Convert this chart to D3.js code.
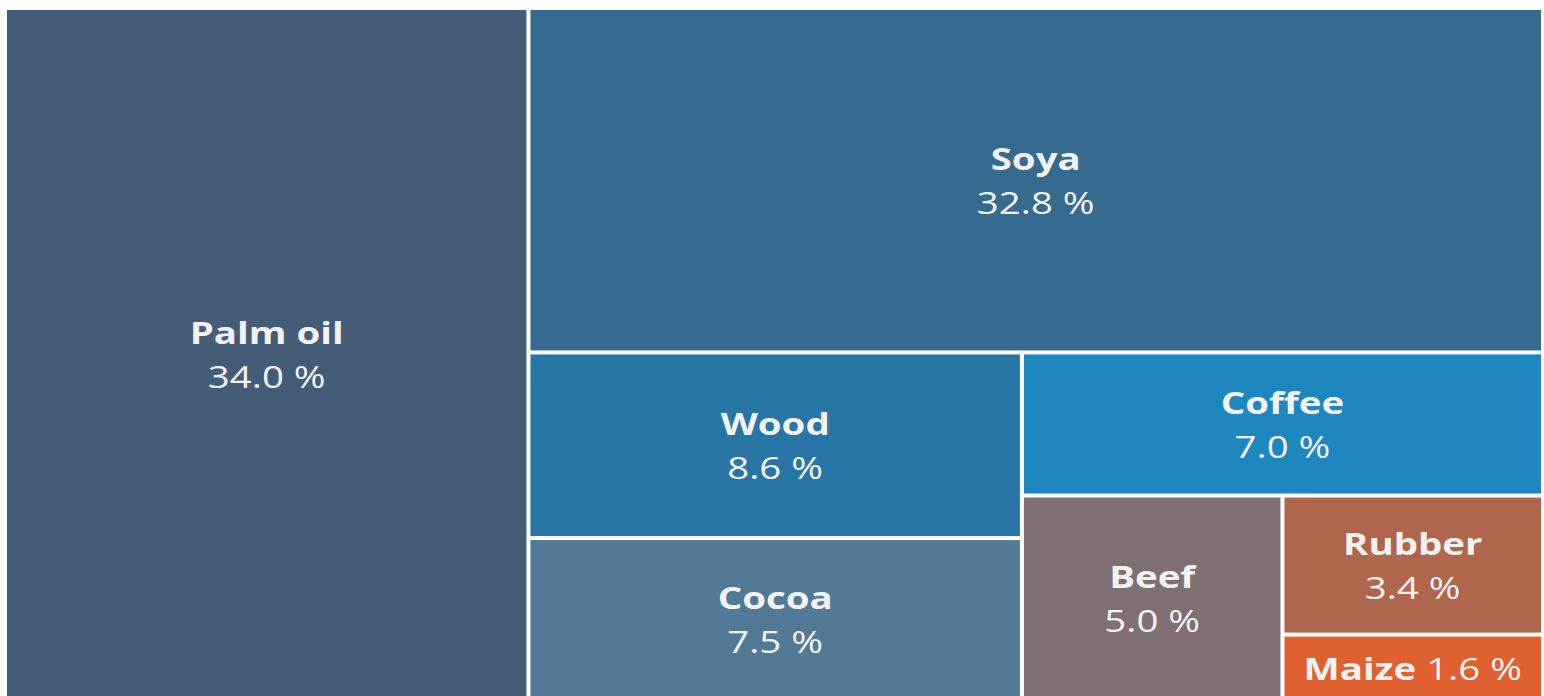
<!DOCTYPE html>
<html>
<head>
<meta charset="utf-8">
<script src="https://cdn.jsdelivr.net/npm/d3@7"></script>
<style>
  html, body { margin: 0; padding: 0; background: #ffffff; }
  svg { display: block; }
  text { font-family: "Open Sans", "Noto Sans", sans-serif; fill: #f2f2f2; }
</style>
</head>
<body>
<svg id="chart" width="1544" height="696"></svg>
<script>
// Data
const categories = ["Palm oil", "Soya", "Wood", "Cocoa", "Coffee", "Beef", "Rubber", "Maize"];
const shares = [34.0, 32.8, 8.6, 7.5, 7.0, 5.0, 3.4, 1.6];
const colors = ["#455c78", "#366a8e", "#2876a5", "#527a96", "#1e87bf", "#7f7073", "#b0664c", "#e06030"];

const leaf = i => ({ name: categories[i], value: shares[i], color: colors[i] });

// Nested grouping that reproduces the original slice/dice arrangement
const tree = {
  name: "root", children: [
    leaf(0),
    { name: "g1", children: [
      leaf(1),
      { name: "g2", children: [
        { name: "g3", children: [leaf(2), leaf(3)] },
        { name: "g4", children: [
          leaf(4),
          { name: "g5", children: [
            leaf(5),
            { name: "g6", children: [leaf(6), leaf(7)] }
          ]}
        ]}
      ]}
    ]}
  ]
};

const svg = d3.select("#chart");
const x0 = 7, y0 = 10, W = 1534, H = 688;

const root = d3.hierarchy(tree).sum(d => d.children ? 0 : d.value);
d3.treemap()
  .tile(d3.treemapSliceDice)
  .size([W, H])
  .paddingInner(4)
  .round(false)(root);

const g = svg.append("g").attr("transform", `translate(${x0},${y0})`);
const leaves = root.leaves();

const cell = g.selectAll("g.cell").data(leaves).join("g").attr("class", "cell");
cell.append("rect")
  .attr("x", d => d.x0).attr("y", d => d.y0)
  .attr("width", d => d.x1 - d.x0).attr("height", d => d.y1 - d.y0)
  .attr("fill", d => d.data.color);

const fmt = v => v.toFixed(1) + " %";
const fs = 31, sx = 1.24;

cell.each(function(d) {
  const cx = (d.x0 + d.x1) / 2, cy = (d.y0 + d.y1) / 2;
  const h = d.y1 - d.y0;
  const sel = d3.select(this).append("g")
    .attr("transform", `translate(${cx},${cy}) scale(${sx},1)`);
  if (h < 80) {
    const t = sel.append("text").attr("x", 0).attr("y", 0).attr("text-anchor", "middle")
      .attr("dominant-baseline", "central").style("font-size", fs + "px");
    t.append("tspan").attr("font-weight", 700).text(d.data.name + " ");
    t.append("tspan").attr("font-weight", 400).text(fmt(d.data.value));
  } else {
    sel.append("text").attr("x", 0).attr("y", -22).attr("text-anchor", "middle")
      .attr("dominant-baseline", "central").attr("font-weight", 700)
      .style("font-size", fs + "px").text(d.data.name);
    sel.append("text").attr("x", 0).attr("y", 22).attr("text-anchor", "middle")
      .attr("dominant-baseline", "central").attr("font-weight", 400)
      .style("font-size", fs + "px").text(fmt(d.data.value));
  }
});
</script>
</body>
</html>
